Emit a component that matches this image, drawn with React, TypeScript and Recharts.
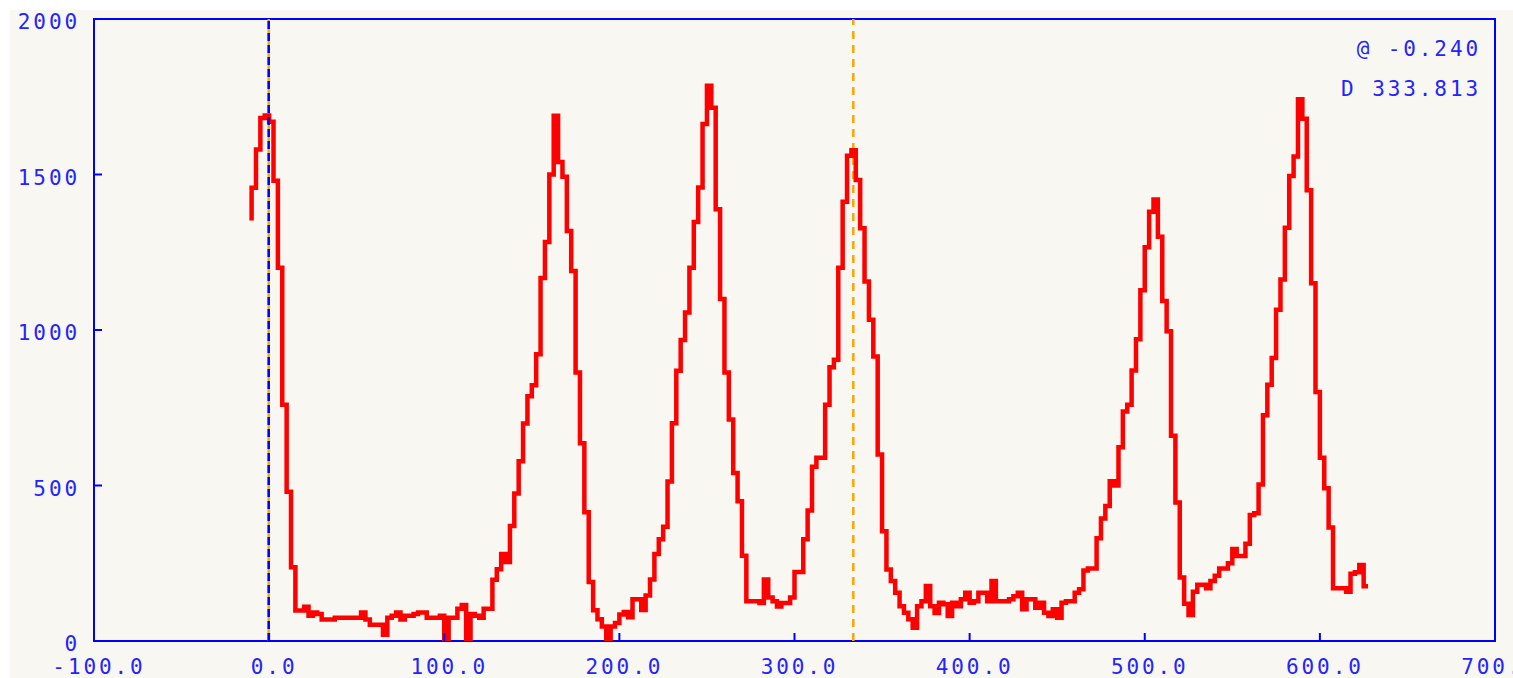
import React from 'react';
import {
  LineChart,
  Line,
  XAxis,
  YAxis,
  ReferenceLine,
  ReferenceArea,
  Customized,
} from 'recharts';

// Histogram bins: counts per 2.5-unit bin starting at x = -10
const BIN_START = -10;
const BIN_WIDTH = 2.5;
const OPENING_COUNT = 1352;
const counts = [
  1457, 1580, 1682, 1690, 1670, 1480, 1200, 760, 480, 237,
  98, 98, 110, 81, 92, 87, 69, 69, 69, 75,
  75, 75, 75, 75, 75, 92, 69, 52, 52, 52,
  20, 75, 81, 92, 69, 81, 81, 87, 92, 92,
  75, 75, 75, 81, 6, 75, 75, 104, 116, 6,
  87, 81, 75, 104, 104, 197, 231, 280, 254, 370,
  474, 578, 699, 787, 822, 922, 1167, 1283, 1500, 1689,
  1540, 1493, 1318, 1190, 863, 636, 414, 190, 99, 70,
  47, 6, 47, 58, 85, 93, 76, 134, 134, 100,
  146, 198, 280, 327, 367, 513, 700, 869, 968, 1056,
  1200, 1347, 1458, 1662, 1785, 1715, 1388, 1100, 863, 712,
  540, 449, 274, 128, 128, 128, 122, 198, 140, 128,
  111, 122, 122, 140, 222, 222, 327, 420, 560, 589,
  589, 760, 880, 904, 1200, 1412, 1560, 1578, 1482, 1327,
  1156, 1033, 915, 600, 353, 230, 193, 155, 112, 91,
  70, 43, 112, 128, 177, 112, 90, 123, 118, 80,
  123, 112, 134, 155, 123, 128, 155, 155, 128, 193,
  128, 128, 128, 134, 144, 155, 102, 134, 134, 107,
  123, 91, 80, 102, 75, 123, 128, 128, 155, 166,
  227, 233, 233, 330, 394, 434, 514, 500, 623, 738,
  760, 870, 970, 1128, 1266, 1380, 1420, 1300, 1093, 996,
  660, 445, 204, 120, 84, 158, 181, 181, 170, 193,
  210, 233, 233, 250, 296, 273, 273, 313, 405, 411,
  503, 726, 824, 910, 1065, 1162, 1329, 1495, 1558, 1742,
  1679, 1449, 1150, 801, 589, 491, 365, 170, 170, 170,
  158, 216, 221, 244, 176,
];

const xTicks = [-100, 0, 100, 200, 300, 400, 500, 600, 700];
const yTicks = [0, 500, 1000, 1500, 2000];

// Cursor markers and their readout
const CURSOR_AT = -0.24;
const CURSOR_DELTA = 333.813;
const readout = ['@ -0.240', 'D 333.813'];

// Step points: each point closes its bin (stepBefore)
const data = [
  { x: BIN_START, count: OPENING_COUNT },
  ...counts.map((c, i) => ({ x: BIN_START + (i + 1) * BIN_WIDTH, count: c })),
];

const BLUE = '#0000ff';
const TEXT_BLUE = '#2424ff';
const RED = '#ff0000';
const ORANGE = '#ffa500';
const PAPER = '#f8f7f1';

const WIDTH = 1503;
const HEIGHT = 668;

const fontProps = {
  fontFamily: '"DejaVu Sans Mono", monospace',
  fontSize: 21,
  letterSpacing: 2.9,
  fill: TEXT_BLUE,
};

const XTick = (props: any) => {
  const { x, y, payload } = props;
  return (
    <g>
      <line x1={x} y1={y} x2={x} y2={y - 8} stroke={BLUE} strokeWidth={2} />
      <text x={x + 5} y={y + 33} textAnchor="middle" {...fontProps}>
        {Number(payload.value).toFixed(1)}
      </text>
    </g>
  );
};

const YTick = (props: any) => {
  const { x, y, payload } = props;
  return (
    <g>
      <line x1={x} y1={y} x2={x + 8} y2={y} stroke={BLUE} strokeWidth={2} />
      <text x={x - 14} y={y + 10} textAnchor="end" {...fontProps}>
        {payload.value}
      </text>
    </g>
  );
};

const Readout = () => (
  <g>
    {readout.map((t, i) => (
      <text key={t} x={1471} y={46 + i * 40} textAnchor="end" {...fontProps}>
        {t}
      </text>
    ))}
  </g>
);

export default function App() {
  return (
    <>
      <style>{'body{margin:0;overflow:hidden;background:#ffffff;}'}</style>
      <div
        style={{
          position: 'absolute',
          left: 10,
          top: 10,
          width: WIDTH,
          height: HEIGHT,
          background: PAPER,
        }}
      >
        <LineChart
          width={WIDTH}
          height={HEIGHT}
          data={data}
          margin={{ top: 9, right: 18, left: 0, bottom: 0 }}
        >
          <XAxis
            dataKey="x"
            type="number"
            domain={[-100, 700]}
            ticks={xTicks}
            allowDataOverflow
            height={37}
            axisLine={false}
            tickLine={false}
            tickSize={0}
            tickMargin={0}
            tick={<XTick />}
            interval={0}
          />
          <YAxis
            type="number"
            domain={[0, 2000]}
            ticks={yTicks}
            allowDataOverflow
            width={84}
            axisLine={false}
            tickLine={false}
            tickSize={0}
            tickMargin={0}
            tick={<YTick />}
            interval={0}
          />
          <ReferenceLine x={CURSOR_AT} stroke={ORANGE} strokeWidth={2.5} />
          <ReferenceLine
            x={CURSOR_AT + CURSOR_DELTA}
            stroke={ORANGE}
            strokeWidth={2.5}
            strokeDasharray="8 6"
          />
          <Line
            type="stepBefore"
            dataKey="count"
            stroke={RED}
            strokeWidth={4.5}
            strokeLinejoin="miter"
            dot={false}
            activeDot={false}
            isAnimationActive={false}
          />
          <ReferenceLine
            x={CURSOR_AT}
            stroke={BLUE}
            strokeWidth={2.5}
            strokeDasharray="8 4"
          />
          <ReferenceArea
            x1={-100}
            x2={700}
            y1={0}
            y2={2000}
            fill="none"
            stroke={BLUE}
            strokeWidth={2}
            ifOverflow="visible"
          />
          <Customized component={Readout} />
        </LineChart>
      </div>
    </>
  );
}
